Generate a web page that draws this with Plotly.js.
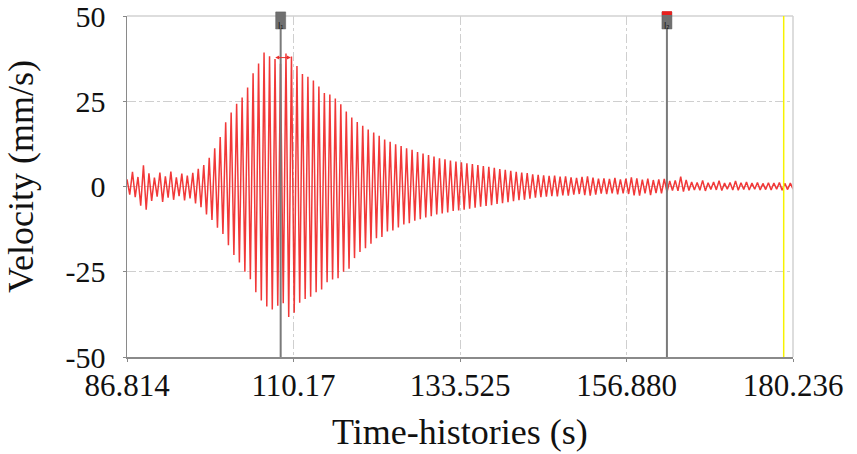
<!DOCTYPE html>
<html>
<head>
<meta charset="utf-8">
<script src="https://cdn.plot.ly/plotly-3.0.1.min.js"></script>
<style>
  html, body { margin: 0; padding: 0; background: #fff; }
  #chart { width: 857px; height: 454px; }
</style>
</head>
<body>
<div id="chart"></div>
<script>
// velocity time-history, peaks (one upper + one lower per cycle)
const TIME_START = 86.814;
const TIME_END = 180.236;
const DT_HALF = 0.3845;

const UPPER_PEAKS = [2.1, 4.3, 2.8, 6.2, 3.9, 2.6, 4.1, 3.0, 4.4, 2.7, 3.8, 3.2,
  4.0, 5.2, 6.3, 8.4, 11.2, 14.5, 18.8, 21.7, 24.3, 26.1, 29.0, 33.2, 36.1, 39.3, 38.2, 37.4, 36.0, 39.0,
  38.1, 35.3, 33.0, 32.2, 31.1, 29.3, 27.4, 27.0, 25.8, 24.1, 22.0, 20.2, 18.9, 17.8, 16.7, 15.8, 14.9, 13.8,
  13.1, 12.4, 11.9, 11.2, 10.8, 10.1, 9.7, 9.2, 8.8, 8.3, 8.0, 7.6, 7.3, 7.1, 6.8, 6.6, 6.3, 6.0, 5.8, 5.5,
  5.1, 4.9, 4.6, 4.3, 4.1, 3.9, 3.6, 3.4, 3.3, 3.1, 3.2, 2.9, 3.0, 2.7, 2.5, 2.8, 3.0, 2.6, 2.3, 2.4, 2.2,
  2.5, 2.1, 2.3, 2.7, 2.4, 2.0, 2.3, 1.9, 2.1, 2.2, 1.6, 1.8, 2.9, 1.9, 1.3, 1.2, 1.8, 1.1, 1.3, 1.7, 1.0,
  1.2, 1.6, 1.1, 1.3, 1.0, 1.2, 0.9, 1.1, 1.0, 1.2, 0.9, 1.0];

const LOWER_PEAKS = [-2.4, -3.1, -5.6, -6.8, -4.2, -3.0, -4.5, -3.3, -3.9, -2.8, -4.1, -3.5,
  -5.0, -6.1, -8.2, -9.8, -12.1, -13.9, -17.2, -20.1, -22.3, -25.0, -27.2, -31.0, -33.4, -35.2, -36.1, -35.0,
  -34.2, -38.3, -37.0, -34.1, -33.0, -32.3, -31.0, -30.2, -28.1, -27.3, -26.9, -25.0, -24.1, -21.0, -19.2,
  -18.1, -16.8, -15.2, -14.8, -13.2, -12.9, -12.0, -11.1, -10.8, -10.0, -9.6, -9.1, -8.7, -8.2, -7.9, -7.6,
  -7.2, -7.0, -6.8, -6.5, -6.2, -5.9, -5.7, -5.5, -5.1, -4.9, -4.6, -4.3, -4.0, -3.9, -3.6, -3.3, -3.1, -3.0,
  -2.8, -2.9, -2.6, -2.7, -2.4, -2.2, -2.5, -2.7, -2.4, -2.1, -2.2, -2.0, -2.3, -2.0, -2.2, -2.6, -2.7, -2.0,
  -2.5, -1.9, -2.0, -1.6, -1.2, -1.3, -1.5, -1.2, -1.0, -1.1, -1.3, -0.9, -1.0, -1.2, -0.8, -1.0, -1.1, -0.9,
  -1.0, -0.8, -1.0, -0.9, -1.0, -0.8, -1.1, -0.9, -0.8];

const X_TICK_VALS = [86.814, 110.17, 133.525, 156.880, 180.236];
const X_TICK_TEXT = ['86.814', '110.17', '133.525', '156.880', '180.236'];
const Y_TICK_VALS = [-50, -25, 0, 25, 50];
const Y_TICK_TEXT = ['-50', '-25', '0', '25', '50'];
const X_TITLE = 'Time-histories (s)';
const Y_TITLE = 'Velocity (mm/s)';

const CURSOR_TIMES = [108.37, 162.55];
const CURSOR_LABELS = ['I\u2081', 'I\u2082'];
const END_MARK_TIME = 178.93;
const SPAN_MARK = { from: 107.4, to: 109.8, level: 37.8 };

// interleave peaks into one sampled signal
const signal = [];
UPPER_PEAKS.forEach((u, i) => { signal.push(u); signal.push(LOWER_PEAKS[i]); });

const SERIF = '"Liberation Serif", "Times New Roman", serif';

const shapes = [];
const annotations = [];

// light frame on top and right
shapes.push({ type: 'line', xref: 'paper', yref: 'paper', x0: 0, x1: 1, y0: 1, y1: 1,
  line: { color: '#d2d2d2', width: 1.5 } });
shapes.push({ type: 'line', xref: 'paper', yref: 'paper', x0: 1, x1: 1, y0: 0, y1: 1,
  line: { color: '#d2d2d2', width: 1.5 } });

shapes.push({ type: 'line', xref: 'x', yref: 'paper', x0: END_MARK_TIME, x1: END_MARK_TIME, y0: 0, y1: 1,
  line: { color: '#f7f200', width: 1.5 } });

CURSOR_TIMES.forEach((t, i) => {
  shapes.push({ type: 'line', xref: 'x', yref: 'paper', x0: t, x1: t, y0: 0, y1: 0.985,
    line: { color: '#7a7a7a', width: 2 }, layer: 'above' });
  shapes.push({ type: 'rect', xref: 'x', yref: 'paper', x0: t - 0.7, x1: t + 0.7, y0: 0.962, y1: 1.012,
    fillcolor: '#707070', line: { color: '#5a5a5a', width: 0.5 }, layer: 'above' });
  annotations.push({ x: t, y: 0.987, xref: 'x', yref: 'paper', text: CURSOR_LABELS[i], showarrow: false,
    font: { family: 'DejaVu Sans', size: 8, color: '#1a1a1a' } });
});
// red flag on the second cursor
shapes.push({ type: 'rect', xref: 'x', yref: 'paper', x0: CURSOR_TIMES[1] - 0.7, x1: CURSOR_TIMES[1] + 0.7,
  y0: 1.003, y1: 1.014, fillcolor: '#e8201e', line: { width: 0 }, layer: 'above' });

// peak-to-peak span marker
annotations.push({ x: SPAN_MARK.to, y: SPAN_MARK.level, ax: SPAN_MARK.from, ay: SPAN_MARK.level,
  xref: 'x', yref: 'y', axref: 'x', ayref: 'y', text: '', showarrow: true,
  arrowhead: 2, startarrowhead: 2, arrowside: 'end+start', arrowsize: 0.8, arrowwidth: 1, arrowcolor: '#e8302e' });

// axis titles placed as annotations so they sit where the original has them
annotations.push({ xref: 'paper', yref: 'paper', x: 0.5, y: -0.22, yanchor: 'middle', showarrow: false,
  borderpad: 0, text: X_TITLE, font: { family: SERIF, size: 36, color: '#111' } });
annotations.push({ xref: 'paper', yref: 'paper', x: -0.159, y: 0.528, xanchor: 'center', yanchor: 'middle',
  textangle: -90, showarrow: false, text: Y_TITLE, font: { family: SERIF, size: 36, color: '#111' } });

const trace = {
  type: 'scatter', mode: 'lines',
  x0: TIME_START, dx: DT_HALF, y: signal,
  line: { color: '#f02222', width: 1.5 },
  opacity: 0.9,
  hoverinfo: 'skip',
};

const layout = {
  width: 857, height: 454,
  margin: { l: 127, r: 64, t: 16, b: 97 },
  paper_bgcolor: '#ffffff', plot_bgcolor: '#ffffff',
  showlegend: false,
  font: { family: SERIF, color: '#111', size: 32 },
  xaxis: {
    range: [TIME_START, TIME_END],
    tickvals: X_TICK_VALS, ticktext: X_TICK_TEXT,
    showgrid: true, gridcolor: '#cfcfcf', griddash: 'dashdot', gridwidth: 1,
    zeroline: false,
    showline: true, linecolor: '#8a8a8a', linewidth: 1.5,
    ticks: '', ticklabeloverflow: 'allow', ticklabelstandoff: 0,
    minor: { tickmode: 'array', tickvals: X_TICK_VALS, ticks: 'outside', ticklen: 3, tickcolor: '#888', showgrid: false },
    tickfont: { family: SERIF, size: 31, color: '#111' },
  },
  yaxis: {
    range: [-50, 50],
    tickvals: Y_TICK_VALS, ticktext: Y_TICK_TEXT,
    showgrid: true, gridcolor: '#cfcfcf', griddash: 'dashdot', gridwidth: 1,
    zeroline: false,
    showline: true, linecolor: '#8a8a8a', linewidth: 1.5,
    // long invisible major ticks push the labels out; the short visible ones are minor ticks
    ticks: 'outside', ticklen: 14, tickcolor: 'rgba(0,0,0,0)', ticklabeloverflow: 'allow',
    minor: { tickmode: 'array', tickvals: Y_TICK_VALS, ticks: 'outside', ticklen: 3, tickcolor: '#888', showgrid: false },
    tickfont: { family: SERIF, size: 30, color: '#111' },
  },
  shapes, annotations,
};

Plotly.newPlot('chart', [trace], layout, { displayModeBar: false, staticPlot: true });
</script>
</body>
</html>
